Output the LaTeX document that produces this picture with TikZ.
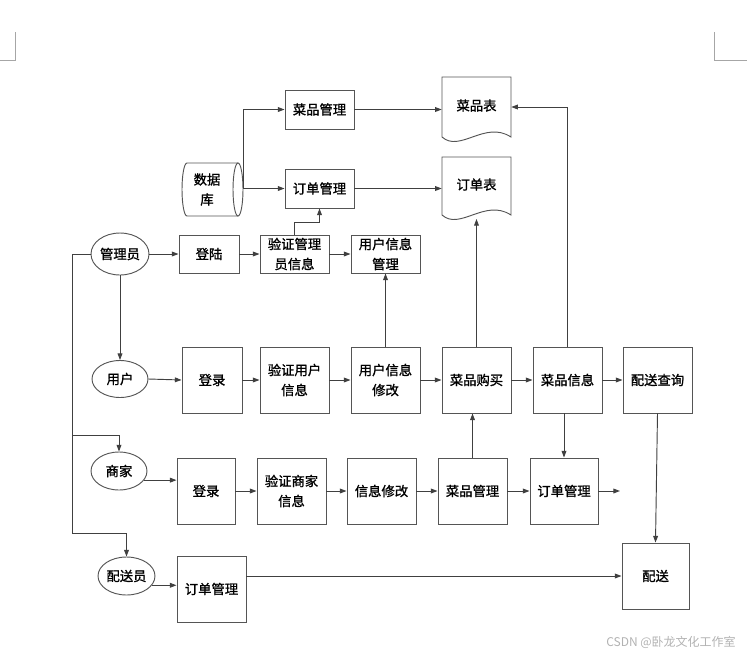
\documentclass[tikz,border=0pt]{standalone}
\usepackage{fontspec}
\setmainfont{Noto Sans CJK SC}[AutoFakeBold=1.2]
\usetikzlibrary{arrows.meta,shapes.geometric,shadows,calc}
\definecolor{linec}{HTML}{404040}
\definecolor{boxc}{HTML}{555555}
\begin{document}
\begin{tikzpicture}[x=0.75pt,y=-0.75pt,
  txt/.style={font=\fontsize{10pt}{15pt}\selectfont\bfseries, align=center, inner sep=1pt},
  box/.style 2 args={txt, draw=boxc, line width=0.7pt, fill=white,
    minimum width=#1*0.75pt, minimum height=#2*0.75pt,
    drop shadow={shadow xshift=0.7pt, shadow yshift=-0.7pt, fill=black!25, opacity=0.5}},
  oval/.style 2 args={txt, ellipse, draw=boxc, line width=0.7pt, fill=white, inner sep=0pt,
    minimum width=#1*0.75pt, minimum height=#2*0.75pt},
  shapeline/.style={draw=boxc, line width=0.7pt},
  arr/.style={draw=linec, line width=0.7pt, -{Triangle[length=5pt,width=3.6pt]}},
  ln/.style={draw=linec, line width=0.7pt}]
\useasboundingbox (0,0) rectangle (747,654);

% corner marks
\draw[black!35, line width=0.6pt] (15,32) -- (15,60) -- (0,60);
\draw[black!35, line width=0.6pt] (714,32) -- (714,60) -- (747,60);

% database cylinder
\draw[shapeline] (187,163) -- (238,163) (187,216) -- (238,216)
  (187,163) .. controls (184.2,163) and (182,174.9) .. (182,189.5)
  .. controls (182,204.1) and (184.2,216) .. (187,216);
\draw[shapeline] (238,189.5) ellipse [x radius=5, y radius=26.5];
\node[txt, minimum width=72*0.75pt, minimum height=53*0.75pt] (db) at (207,189.5) {数据\\库};

% documents
\draw[shapeline] (442,77) -- (511,77) -- (511,137) .. controls (485,120) and (460,153) .. (442,137) -- cycle;
\node[txt, minimum width=69*0.75pt, minimum height=60*0.75pt] (cdoc) at (476.5,107) {\raisebox{3pt}{菜品表}};
\draw[shapeline] (442,157) -- (511,157) -- (511,215) .. controls (485,198) and (460,231) .. (442,215) -- cycle;
\node[txt, minimum width=69*0.75pt, minimum height=58*0.75pt] (ddoc) at (476.5,186) {\raisebox{3pt}{订单表}};
\coordinate (ddocb) at (477,219);

% top boxes
\node[box={69}{39}] (mg1) at (319.5,109.5) {菜品管理};
\node[box={69}{39}] (og1) at (319.5,188.5) {订单管理};

% admin row
\node[oval={58}{42}] (admin) at (120,254) {管理员};
\node[box={60}{38}] (dl) at (209,254) {登陆};
\node[box={69}{38}] (yz) at (294.5,254) {验证管理\\员信息};
\node[box={69}{38}] (yhgl) at (385.5,254) {用户信息\\管理};

% user row
\node[oval={56}{37}] (user) at (120,379) {用户};
\node[box={60}{66}] (ulogin) at (212,380) {登录};
\node[box={69}{66}] (uyz) at (294.5,380) {验证用户\\信息};
\node[box={69}{66}] (uxg) at (385.5,380) {用户信息\\修改};
\node[box={69}{66}] (buy) at (476.5,380) {菜品购买};
\node[box={69}{66}] (info) at (567.5,380) {菜品信息};
\node[box={69}{66}] (psq) at (657.5,380) {配送查询};

% shop row
\node[oval={56}{38}] (shop) at (119,471) {商家};
\node[box={58}{66}] (slogin) at (206,491) {登录};
\node[box={69}{66}] (syz) at (291.5,491) {验证商家\\信息};
\node[box={69}{66}] (sxg) at (381.5,491) {信息修改};
\node[box={69}{66}] (smg) at (472.5,491) {菜品管理};
\node[box={68}{66}] (sog) at (564,491) {订单管理};
\coordinate (sogend) at (620,491);

% dispatcher row
\node[oval={57}{38}] (disp) at (126.5,576) {配送员};
\node[box={69}{66}] (dog) at (211.5,589) {订单管理};
\node[box={67}{66}] (ps) at (655.5,576) {配送};

% junctions
\coordinate (j1) at (72,435);
\coordinate (j2) at (72,533);

% connectors top
\draw[arr] (db.east |- og1.west) -- (og1.west);
\draw[arr] (db.east |- og1.west) |- (mg1.west);
\draw[arr] (mg1.east) -- (cdoc.west |- mg1.east);
\draw[arr] (og1.east) -- (ddoc.west |- og1.east);

% admin row
\draw[arr] (admin.east) -- (dl.west);
\draw[arr] (dl.east) -- (yz.west);
\draw[arr] (yz.east) -- (yhgl.west);
\draw[arr] (yz.north) -- ++(0,-12) -| (og1.south);
\draw[arr] (admin.south) -- (user.north);
\draw[ln] (admin.west) -| (j2);
\draw[arr] (j1) -| (shop.north);
\draw[arr] (j2) -| (disp.north);

% user row
\draw[arr] (user.east) -- (ulogin.west);
\draw[arr] (ulogin.east) -- (uyz.west);
\draw[arr] (uyz.east) -- (uxg.west);
\draw[arr] (uxg.east) -- (buy.west);
\draw[arr] (buy.east) -- (info.west);
\draw[arr] (info.east) -- (psq.west);
\draw[arr] (uxg.north) -- (yhgl.south);
\draw[arr] (buy.north) -- (buy.north |- ddocb);
\draw[arr] (info.north) |- (cdoc.east);
\draw[arr] (sog.north |- info.south) -- (sog.north);
\draw[arr] (smg.north) -- (smg.north |- buy.south);
\draw[arr] (psq.south) -- (ps.north);

% shop row
\draw[arr] (shop.-20) -- (slogin.west |- shop.-20);
\draw[arr] (slogin.east) -- (syz.west);
\draw[arr] (syz.east) -- (sxg.west);
\draw[arr] (sxg.east) -- (smg.west);
\draw[arr] (smg.east) -- (sog.west);
\draw[arr] (sog.east) -- (sogend);

% dispatcher row
\draw[arr] (disp.-20) -- (dog.west |- disp.-20);
\draw[arr] (dog.east |- ps.west) -- (ps.west);

% watermark
\node[font=\fontsize{9pt}{10pt}\selectfont, text=black!30, anchor=east, inner sep=0pt] (wm) at (736,642) {CSDN @卧龙文化工作室};
\end{tikzpicture}
\end{document}
